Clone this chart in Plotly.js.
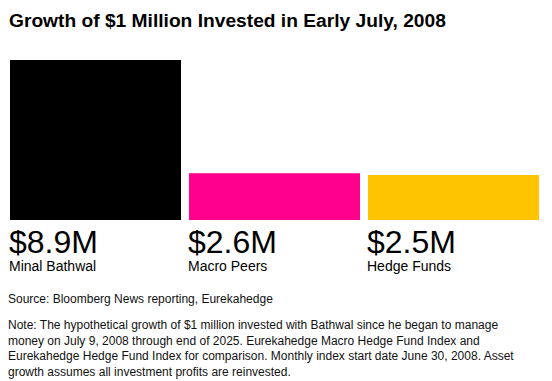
<!DOCTYPE html>
<html>
<head>
<meta charset="utf-8">
<script src="https://cdn.plot.ly/plotly-3.0.1.min.js"></script>
<style>html,body{margin:0;padding:0;background:#fff;}#chart{width:552px;height:381px;}</style>
</head>
<body>
<div id="chart"></div>
<script>
const categories = ["Minal Bathwal", "Macro Peers", "Hedge Funds"];
const values = [8.9, 2.6, 2.5];
const colors = ["#000000", "#ff008c", "#ffc400"];
const titleText = "Growth of $1 Million Invested in Early July, 2008";
const sourceText = "Source: Bloomberg News reporting, Eurekahedge";
const noteLines = [
  "Note: The hypothetical growth of $1 million invested with Bathwal since he began to manage",
  "money on July 9, 2008 through end of 2025. Eurekahedge Macro Hedge Fund Index and",
  "Eurekahedge Hedge Fund Index for comparison. Monthly index start date June 30, 2008. Asset",
  "growth assumes all investment profits are reinvested."
];

const W = 552, H = 381;
const marginL = 10, marginR = 13, marginT = 60, marginB = 161;
const plotTop = marginT, plotBottom = H - marginB, plotH = plotBottom - plotTop;
const barW = 171 / 179;
const xs = categories.map((_, i) => i);
const FONT = '"Liberation Sans", Arial, sans-serif';
const py = px => (plotBottom - px) / plotH;

const trace = {
  type: "bar",
  x: xs,
  y: values,
  width: barW,
  marker: { color: colors, line: { width: 0 } },
  hoverinfo: "skip"
};

const annotations = [];
xs.forEach((x, i) => {
  annotations.push({
    xref: "x", yref: "paper", x: x - barW / 2, y: py(276),
    xanchor: "left", yanchor: "bottom", xshift: -3, align: "left",
    text: '<span style="font-size:32px">$' + values[i].toFixed(1) + 'M</span><br>' + categories[i],
    showarrow: false,
    font: { family: FONT, size: 14, color: "#000" }
  });
});
annotations.push({
  xref: "paper", yref: "paper", x: 0, y: py(299), xanchor: "left", yanchor: "middle",
  xshift: -4, text: sourceText, showarrow: false,
  font: { family: FONT, size: 12, color: "#111" }
});
annotations.push({
  xref: "paper", yref: "paper", x: 0, y: py(316), xanchor: "left", yanchor: "top",
  xshift: -4, align: "left", text: noteLines.join("<br>"), showarrow: false,
  font: { family: FONT, size: 12, color: "#111" }
});

const layout = {
  width: W, height: H,
  margin: { l: marginL, r: marginR, t: marginT, b: marginB, pad: 0 },
  paper_bgcolor: "#fff", plot_bgcolor: "#fff",
  showlegend: false,
  hovermode: false,
  title: {
    text: "<b>" + titleText + "</b>",
    font: { family: FONT, size: 19.2, color: "#000" },
    xref: "container", yref: "container",
    x: 9 / W, xanchor: "left",
    y: 1 - 20 / H, yanchor: "middle"
  },
  xaxis: {
    range: [-barW / 2, 2 + barW / 2],
    showgrid: false, zeroline: false, showticklabels: false, showline: false, ticks: "",
    fixedrange: true
  },
  yaxis: {
    range: [0, values[0]],
    showgrid: false, zeroline: false, showticklabels: false, showline: false, ticks: "",
    fixedrange: true
  },
  annotations: annotations
};

Plotly.newPlot("chart", [trace], layout, { displayModeBar: false, staticPlot: true });
</script>
</body>
</html>
